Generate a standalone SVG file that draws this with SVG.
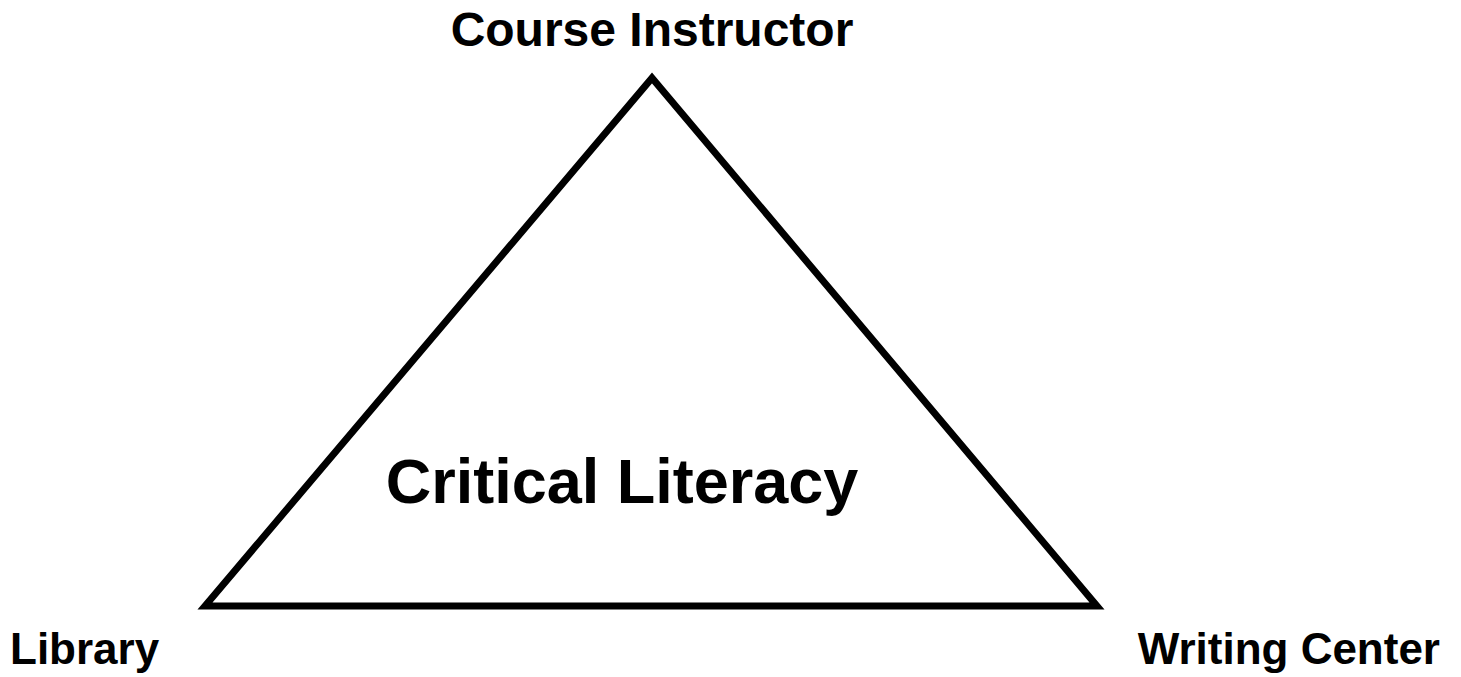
<svg xmlns="http://www.w3.org/2000/svg" width="1461" height="677" viewBox="0 0 1461 677">
<style>
.lbl{font-family:"Liberation Sans",Arial,sans-serif;font-weight:bold;fill:#000}
</style>
<rect width="1461" height="677" fill="#fff"/>
<g id="connectors">
<polygon points="205,606 652,78 1097,606" fill="none" stroke="#000" stroke-width="7" stroke-linejoin="miter" stroke-miterlimit="10"/>
</g>
<g id="node-instructor"><text class="lbl" x="652" y="46" font-size="48" text-anchor="middle">Course Instructor</text></g>
<g id="node-library"><text class="lbl" x="10" y="664" font-size="44">Library</text></g>
<g id="node-writing"><text class="lbl" x="1440" y="664" font-size="44" text-anchor="end">Writing Center</text></g>
<g id="node-center"><text class="lbl" x="622" y="503" font-size="63" text-anchor="middle">Critical Literacy</text></g>
</svg>
